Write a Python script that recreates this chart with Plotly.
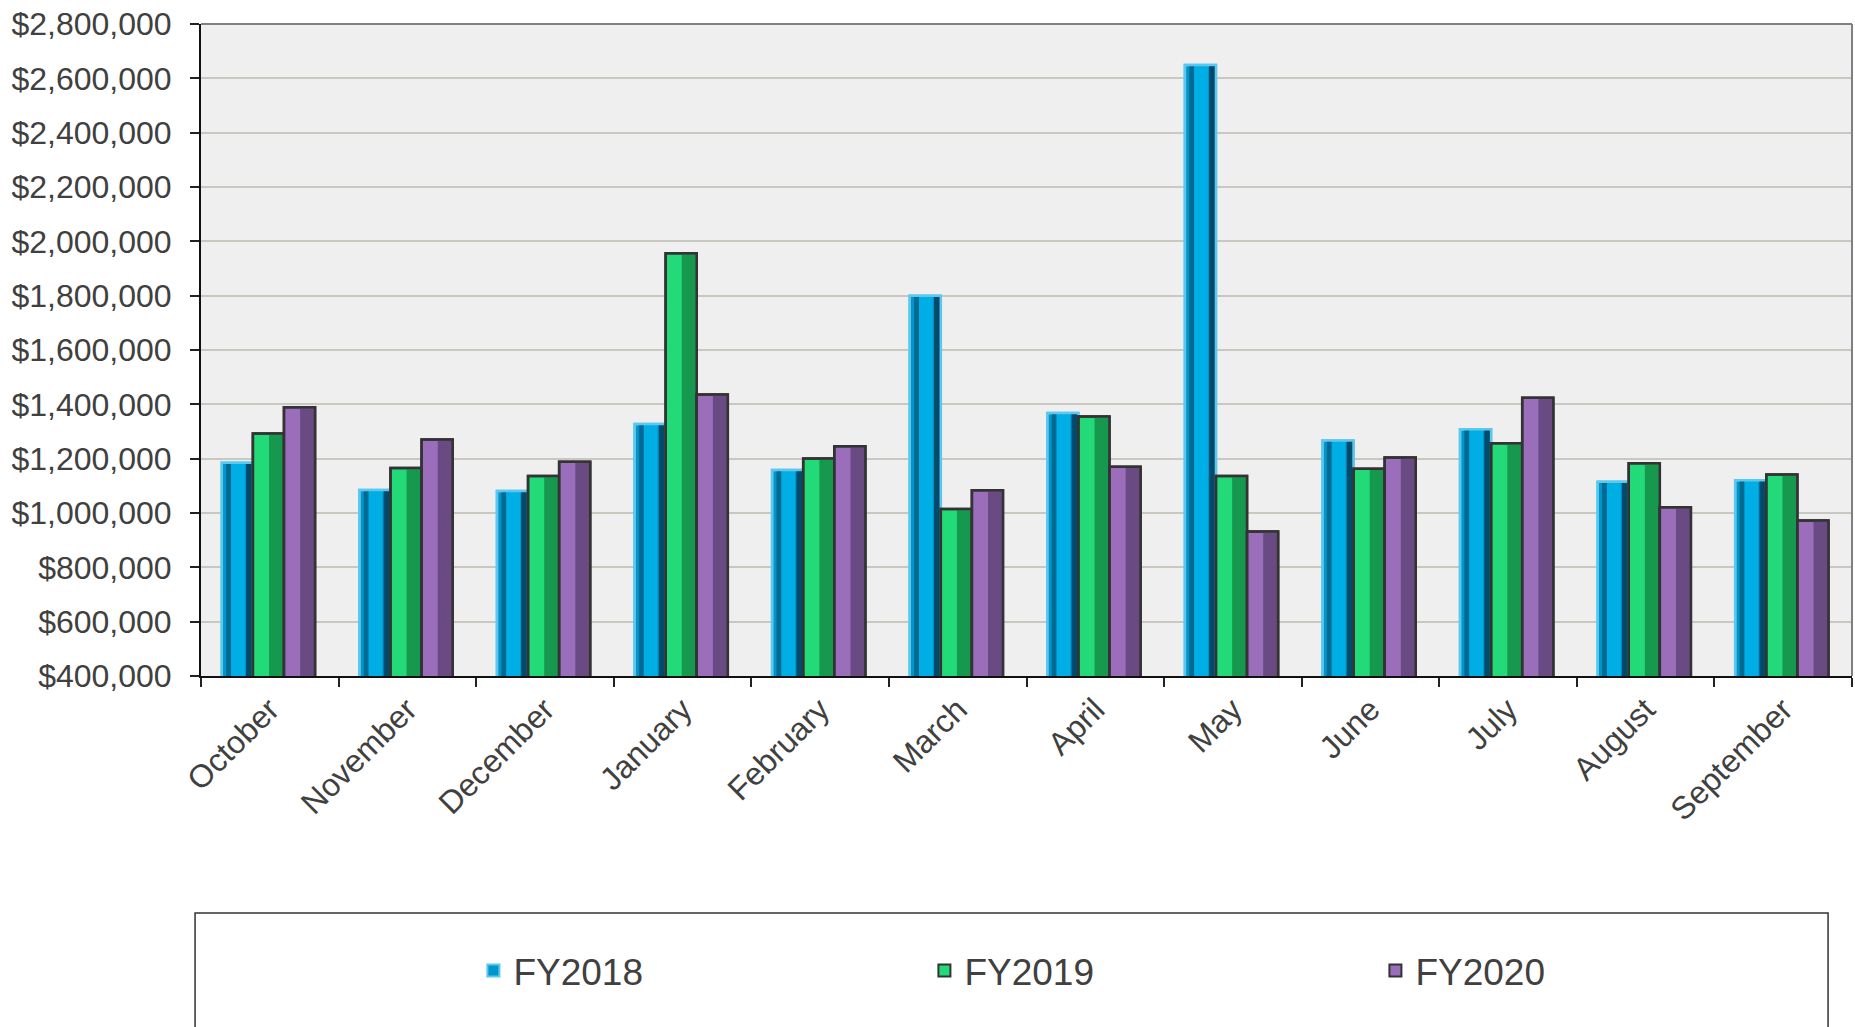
import plotly.graph_objects as go

months = ["October", "November", "December", "January", "February", "March",
          "April", "May", "June", "July", "August", "September"]
fy2018 = [1185000, 1085000, 1081000, 1328000, 1158000, 1800000,
          1368000, 2649000, 1267000, 1308000, 1115000, 1121000]
fy2019 = [1293000, 1166000, 1136000, 1956000, 1201000, 1015000,
          1355000, 1136000, 1163000, 1257000, 1183000, 1142000]
fy2020 = [1389000, 1271000, 1189000, 1436000, 1246000, 1084000,
          1170000, 932000, 1204000, 1424000, 1021000, 972000]
y_ticks = list(range(400000, 2800001, 200000))
y_ticktext = ["${:,}".format(v) for v in y_ticks]

FONT = "Arial, Liberation Sans, sans-serif"
W = 0.226
series = [
    # name, values, offset, base color, outline, overlays (rel start, rel width, color)
    ("FY2018", fy2018, -0.349, "#0096CC", "#5CC8EE",
     [(0.14, 0.16, "#006A93"), (0.30, 0.44, "#00AEE6"), (0.78, 0.22, "#004A6B")]),
    ("FY2019", fy2019, -0.123, "#22DB78", "#333333",
     [(0.52, 0.48, "#17984F")]),
    ("FY2020", fy2020, 0.103, "#9B6EBC", "#333333",
     [(0.52, 0.48, "#694A83")]),
]

fig = go.Figure()
for name, vals, off, col, line, overlays in series:
    fig.add_trace(go.Bar(
        x=months, y=vals, name=name, width=W, offset=off,
        marker=dict(color=col, line=dict(color=line, width=2.5)),
        showlegend=True, legendrank={"FY2018": 1, "FY2019": 2, "FY2020": 3}[name]))
    for rs, rw, oc in overlays:
        fig.add_trace(go.Bar(
            x=months, y=vals, width=W * rw, offset=off + W * rs,
            marker=dict(color=oc, line=dict(width=0)),
            showlegend=False, hoverinfo="skip"))
    fig.add_trace(go.Bar(
        x=months, y=vals, width=W, offset=off,
        marker=dict(color="rgba(0,0,0,0)", line=dict(color=line, width=2.5)),
        showlegend=False, hoverinfo="skip"))

fig.update_layout(
    width=1855, height=1027,
    margin=dict(l=201, r=3, t=24, b=351, autoexpand=False),
    paper_bgcolor="white", plot_bgcolor="#EFEFEF",
    barmode="overlay",
    font=dict(family=FONT, color="#404040"),
    showlegend=True,
    legend=dict(orientation="h", x=0.165, xanchor="left", y=-0.4525, yanchor="middle",
                font=dict(size=37, family=FONT, color="#404040"),
                entrywidth=406, entrywidthmode="pixels",
                bgcolor="rgba(0,0,0,0)", borderwidth=0, itemsizing="constant"),
    shapes=[
        dict(type="rect", xref="paper", yref="paper", x0=-0.0036, x1=0.9855,
             y0=-0.3635, y1=-0.6, line=dict(color="#333333", width=1.5),
             fillcolor="white", layer="below"),
        dict(type="line", xref="paper", yref="paper", x0=0, x1=1, y0=1, y1=1,
             line=dict(color="#808080", width=2), layer="above"),
        dict(type="line", xref="paper", yref="paper", x0=1, x1=1, y0=0, y1=1,
             line=dict(color="#808080", width=2), layer="above"),
    ],
)
fig.update_xaxes(
    type="category", tickson="boundaries", ticks="outside", ticklen=9,
    tickcolor="#222222", tickwidth=1.5, tickangle=-45,
    tickfont=dict(size=32, family=FONT, color="#404040"),
    showline=True, linecolor="#111111", linewidth=2, showgrid=False,
    range=[-0.5, 11.5], automargin=False)
fig.update_yaxes(
    range=[400000, 2800000], tickvals=y_ticks, ticktext=y_ticktext,
    ticks="outside", ticklen=9, tickcolor="#222222", tickwidth=1.5,
    tickfont=dict(size=32, family=FONT, color="#404040"),
    showline=True, linecolor="#111111", linewidth=2,
    showgrid=True, gridcolor="#C8C8C0", gridwidth=1.5, zeroline=False,
    ticklabelstandoff=12, ticklabeloverflow="allow", automargin=False)

fig.write_html("out.html", config={"displayModeBar": False},
               post_script="document.body.style.margin='0px';document.body.style.overflow='hidden';")
